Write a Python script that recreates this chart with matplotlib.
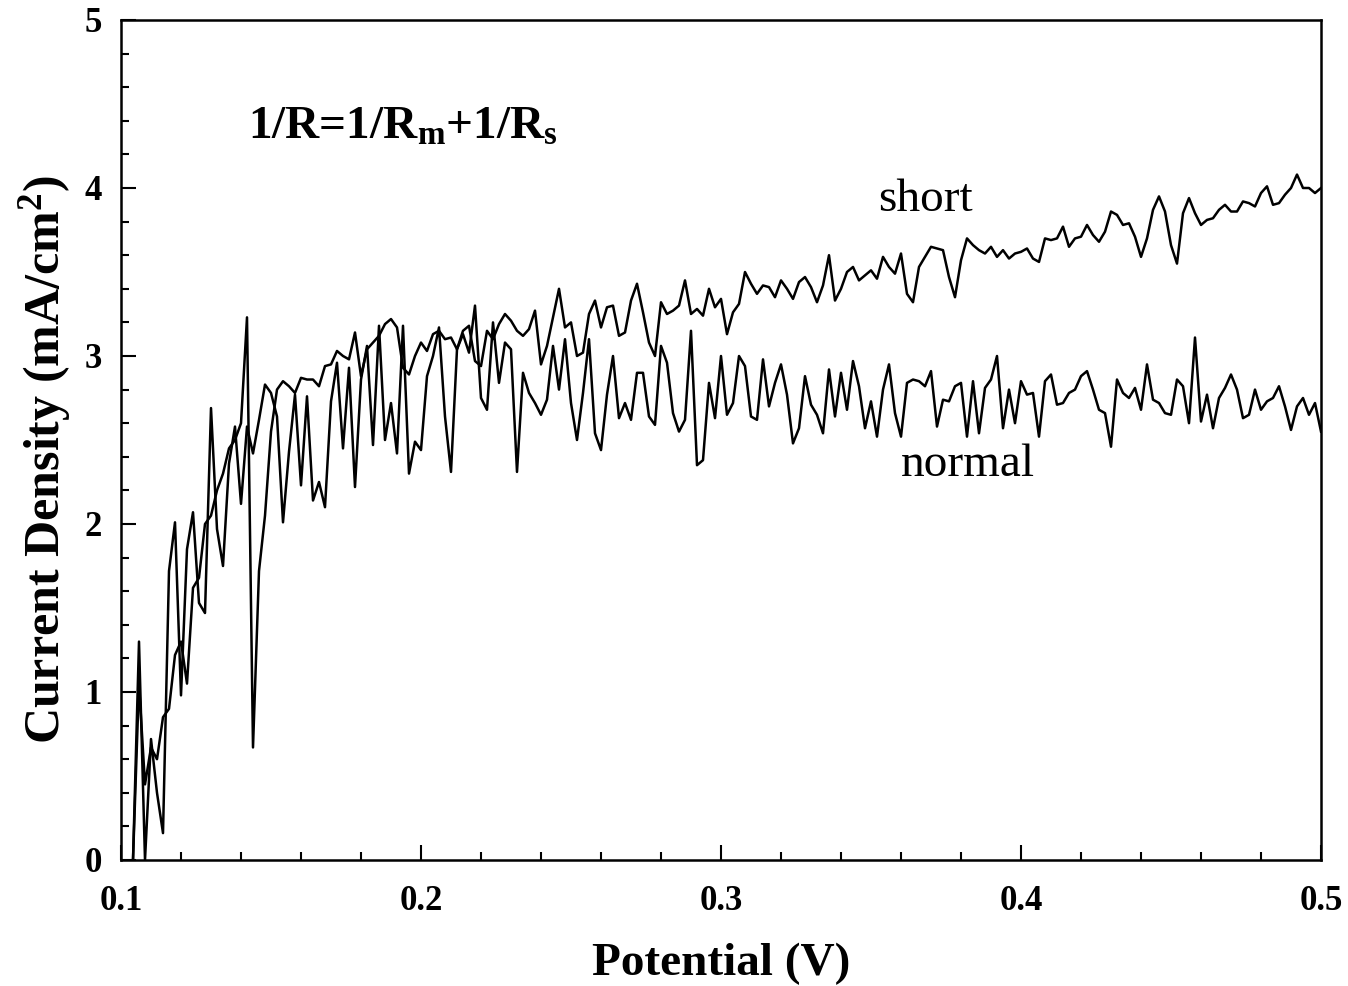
import numpy as np
import matplotlib
matplotlib.use("Agg")
import matplotlib.pyplot as plt

# Potential sweep grid (V)
potential = np.round(np.arange(0.104, 0.5001, 0.002), 3)

# "short" series (mA/cm^2)
short_j = [
    # 0.104 - 0.166
    0.0, 1.05, 0.45, 0.67, 0.60, 0.85, 0.90, 1.22, 1.30, 1.05,
    1.62, 1.68, 2.00, 2.05, 2.20, 2.30, 2.45, 2.50, 2.60, 3.23,
    0.67, 1.72, 2.05, 2.55, 2.80, 2.85, 2.82, 2.78, 2.87, 2.86,
    2.86, 2.82,
    # 0.168 - 0.232
    2.94, 2.95, 3.03, 3.00, 2.98, 3.14, 2.88, 3.04, 3.08, 3.12,
    3.19, 3.22, 3.17, 2.93, 2.89, 3.00, 3.08, 3.03, 3.13, 3.15,
    3.10, 3.11, 3.04, 3.15, 3.18, 2.97, 2.94, 3.15, 3.10, 3.19,
    3.25, 3.21, 3.15,
    # 0.234 - 0.300
    3.12, 3.16, 3.27, 2.95, 3.06, 3.23, 3.40, 3.17, 3.20, 3.00,
    3.02, 3.25, 3.33, 3.17, 3.29, 3.30, 3.12, 3.14, 3.33, 3.43,
    3.26, 3.08, 3.00, 3.32, 3.25, 3.27, 3.30, 3.45, 3.25, 3.28,
    3.24, 3.40, 3.29, 3.34,
    # 0.302 - 0.366
    3.13, 3.26, 3.31, 3.50, 3.43, 3.37, 3.42, 3.41, 3.35, 3.45,
    3.40, 3.34, 3.44, 3.47, 3.41, 3.32, 3.42, 3.60, 3.33, 3.40,
    3.50, 3.53, 3.45, 3.48, 3.51, 3.46, 3.59, 3.53, 3.49, 3.61,
    3.37, 3.32, 3.53,
    # 0.368 - 0.432
    3.59, 3.65, 3.64, 3.63, 3.47, 3.35, 3.57, 3.70, 3.66, 3.63,
    3.61, 3.65, 3.59, 3.63, 3.58, 3.61, 3.62, 3.64, 3.58, 3.56,
    3.70, 3.69, 3.70, 3.77, 3.65, 3.70, 3.71, 3.78, 3.72, 3.68,
    3.74, 3.86, 3.84,
    # 0.434 - 0.500
    3.78, 3.79, 3.71, 3.59, 3.70, 3.87, 3.95, 3.86, 3.66, 3.55,
    3.85, 3.94, 3.85, 3.78, 3.81, 3.82, 3.87, 3.90, 3.86, 3.86,
    3.92, 3.91, 3.89, 3.97, 4.01, 3.90, 3.91, 3.96, 4.00, 4.08,
    4.00, 4.00, 3.97, 4.00,
]

# "normal" series (mA/cm^2)
normal_j = [
    # 0.104 - 0.166
    0.0, 1.30, 0.0, 0.72, 0.40, 0.16, 1.72, 2.01, 0.98, 1.85,
    2.07, 1.53, 1.47, 2.69, 1.97, 1.75, 2.36, 2.58, 2.12, 2.58,
    2.42, 2.62, 2.83, 2.78, 2.64, 2.01, 2.43, 2.77, 2.23, 2.76,
    2.14, 2.25,
    # 0.168 - 0.232
    2.10, 2.73, 2.96, 2.45, 2.93, 2.22, 2.86, 3.06, 2.47, 3.18,
    2.50, 2.72, 2.42, 3.18, 2.30, 2.49, 2.44, 2.88, 3.00, 3.17,
    2.64, 2.31, 3.04, 3.13, 3.02, 3.30, 2.75, 2.68, 3.20, 2.84,
    3.08, 3.04, 2.31,
    # 0.234 - 0.300
    2.90, 2.78, 2.72, 2.65, 2.74, 3.06, 2.80, 3.10, 2.72, 2.50,
    2.78, 3.10, 2.54, 2.44, 2.77, 3.00, 2.63, 2.72, 2.62, 2.90,
    2.90, 2.64, 2.59, 3.06, 2.96, 2.66, 2.55, 2.62, 3.15, 2.35,
    2.38, 2.84, 2.63, 3.00,
    # 0.302 - 0.366
    2.65, 2.72, 3.00, 2.94, 2.64, 2.62, 2.98, 2.70, 2.84, 2.95,
    2.77, 2.48, 2.57, 2.88, 2.71, 2.65, 2.54, 2.92, 2.64, 2.90,
    2.68, 2.97, 2.82, 2.57, 2.73, 2.52, 2.80, 2.95, 2.66, 2.52,
    2.84, 2.86, 2.85,
    # 0.368 - 0.432
    2.82, 2.91, 2.58, 2.74, 2.73, 2.82, 2.84, 2.52, 2.85, 2.54,
    2.81, 2.86, 3.00, 2.57, 2.80, 2.60, 2.85, 2.77, 2.78, 2.52,
    2.85, 2.89, 2.71, 2.72, 2.78, 2.80, 2.88, 2.91, 2.80, 2.68,
    2.66, 2.46, 2.86,
    # 0.434 - 0.500
    2.78, 2.75, 2.81, 2.68, 2.95, 2.74, 2.72, 2.66, 2.65, 2.86,
    2.82, 2.60, 3.11, 2.61, 2.77, 2.57, 2.75, 2.81, 2.89, 2.80,
    2.63, 2.65, 2.80, 2.68, 2.73, 2.75, 2.82, 2.70, 2.56, 2.70,
    2.75, 2.65, 2.72, 2.55,
]

x_ticks = [0.1, 0.2, 0.3, 0.4, 0.5]
y_ticks = [0, 1, 2, 3, 4, 5]

plt.rcParams['font.family'] = ['Liberation Serif', 'DejaVu Serif']
plt.rcParams['mathtext.fontset'] = 'custom'
plt.rcParams['mathtext.rm'] = 'Liberation Serif:bold'
plt.rcParams['mathtext.it'] = 'Liberation Serif:bold'
plt.rcParams['mathtext.bf'] = 'Liberation Serif:bold'

fig = plt.figure(figsize=(13.48, 9.86), dpi=100)
ax = fig.add_axes([121/1348, 1-860/986, 1200/1348, 840/986])

ax.plot(potential, short_j, color='black', lw=1.8)
ax.plot(potential, normal_j, color='black', lw=1.8)

ax.set_xlim(0.1, 0.5)
ax.set_ylim(0, 5)
ax.set_xticks(x_ticks)
ax.set_xticklabels([f"{v:.1f}" for v in x_ticks])
ax.set_yticks(y_ticks)
ax.set_xticks(np.arange(0.1, 0.5001, 0.02), minor=True)
ax.set_yticks(np.arange(0, 5.001, 0.2), minor=True)
ax.tick_params(which='both', direction='in', top=False, right=False, width=1.5)
ax.tick_params(which='major', length=11, labelsize=25)
ax.tick_params(axis='x', which='major', pad=18)
ax.tick_params(axis='y', which='major', pad=14)
ax.tick_params(which='minor', length=6)
for lab in ax.get_xticklabels() + ax.get_yticklabels():
    lab.set_fontweight('bold')
for s in ax.spines.values():
    s.set_linewidth(1.8)

ax.set_xlabel('Potential (V)', fontsize=34, fontweight='bold', labelpad=18)
ax.set_ylabel(r'Current Density (mA/cm$^{\mathbf{2}}$)', fontsize=36,
              fontweight='bold')
ax.yaxis.set_label_coords(-0.040, 0.476)

ax.text(0.1423, 4.36, r'1/R=1/R$_{\mathbf{m}}$+1/R$_{\mathbf{s}}$', fontsize=34,
        fontweight='bold', ha='left', va='center')
ax.text(0.368, 3.93, 'short', fontsize=34, ha='center', va='center')
ax.text(0.3823, 2.35, 'normal', fontsize=34, ha='center', va='center')

fig.savefig('out.png', dpi=100)
